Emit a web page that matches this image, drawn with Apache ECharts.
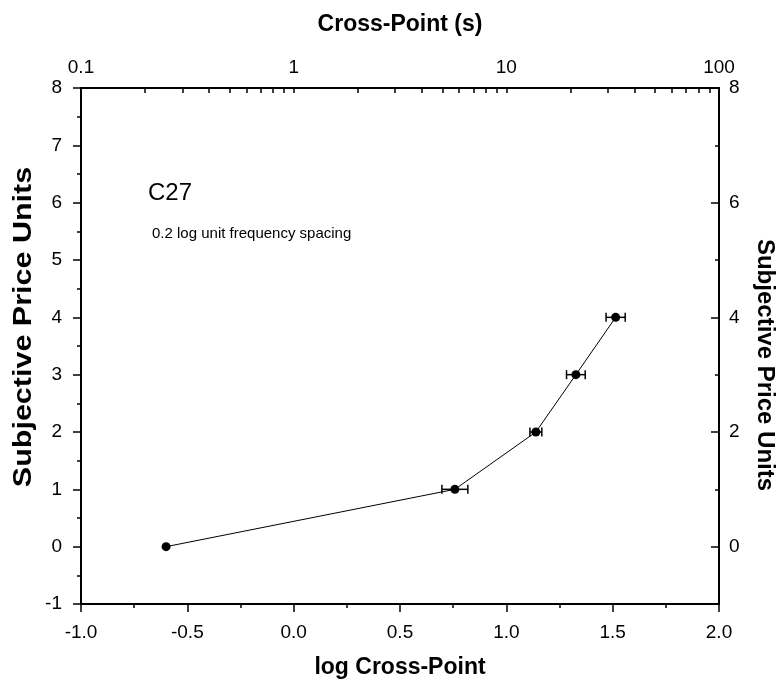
<!DOCTYPE html>
<html>
<head>
<meta charset="utf-8">
<script src="https://cdn.jsdelivr.net/npm/echarts@6/dist/echarts.min.js"></script>
<style>html,body{margin:0;padding:0;background:#fff}#c{width:781px;height:680px}</style>
</head>
<body>
<div id="c"></div>
<script>
// ---- data ----
var logCrossPoint = [-0.60, 0.758, 1.139, 1.327, 1.514];
var priceUnits = [0, 1, 2, 3, 4];
var xError = [0, 0.061, 0.028, 0.044, 0.045];
var topTickLabels = ['0.1', '1', '10', '100'];
var topLabelPositions = [-1, 0, 1, 2];
var rightLabelValues = [0, 2, 4, 6, 8];
var rightMinorValues = [1, 3, 5, 7];

var FONT = '"Liberation Sans", Arial, Helvetica, sans-serif';

// top log ticks (positions in log space)
var topTicks = [];
[-1, 0, 1].forEach(function (d) {
  for (var k = 1; k <= 9; k++) topTicks.push(d + Math.log10(k));
});
topTicks.push(2);

var points = logCrossPoint.map(function (x, i) { return [x, priceUnits[i]]; });
var errData = logCrossPoint.map(function (x, i) { return [x, priceUnits[i], xError[i]]; });

var chart = echarts.init(document.getElementById('c'), null, { renderer: 'canvas' });
function axisLine() { return { show: true, onZero: false, lineStyle: { color: '#000', width: 2 } }; }
var labelStyle = { color: '#000', fontSize: 19, fontFamily: FONT };

chart.setOption({
  animation: false,
  backgroundColor: '#fff',
  grid: { left: 81, right: 62, top: 88, bottom: 76, containLabel: false, outerBoundsMode: 'none' },
  xAxis: [{
    type: 'value', position: 'bottom', min: -1, max: 2, interval: 0.5,
    axisLine: axisLine(),
    axisTick: { show: true, inside: false, length: 8, lineStyle: { color: '#000', width: 1.5 } },
    minorTick: { show: true, splitNumber: 2, length: 4, lineStyle: { color: '#000', width: 1.5 } },
    splitLine: { show: false },
    axisLabel: Object.assign({ margin: 19, formatter: function (v) { return v.toFixed(1); } }, labelStyle),
    name: 'log Cross-Point', nameLocation: 'middle', nameGap: 52,
    nameTextStyle: { color: '#000', fontSize: 23, fontWeight: 'bold', fontFamily: FONT }
  }, {
    type: 'value', position: 'top', min: -1, max: 2,
    axisLine: axisLine(),
    axisTick: { show: true, inside: true, length: 5, customValues: topTicks, lineStyle: { color: '#000', width: 1.5 } },
    splitLine: { show: false },
    axisLabel: Object.assign({
      margin: 11, customValues: topLabelPositions, showMinLabel: true, showMaxLabel: true,
      formatter: function (v) {
        var i = topLabelPositions.indexOf(Math.round(v));
        return i >= 0 ? topTickLabels[i] : '';
      }
    }, labelStyle),
    name: 'Cross-Point (s)', nameLocation: 'middle', nameGap: 52,
    nameTextStyle: { color: '#000', fontSize: 23, fontWeight: 'bold', fontFamily: FONT }
  }],
  yAxis: [{
    type: 'value', position: 'left', min: -1, max: 8, interval: 1,
    axisLine: axisLine(),
    axisTick: { show: true, inside: false, length: 8, lineStyle: { color: '#000', width: 1.5 } },
    minorTick: { show: true, splitNumber: 2, length: 4, lineStyle: { color: '#000', width: 1.5 } },
    splitLine: { show: false },
    axisLabel: Object.assign({ margin: 19 }, labelStyle)
  }, {
    type: 'value', position: 'right', min: -1, max: 8,
    axisLine: axisLine(),
    axisTick: { show: true, inside: true, length: 8, customValues: rightLabelValues, lineStyle: { color: '#000', width: 1.5 } },
    splitLine: { show: false },
    axisLabel: Object.assign({ margin: 10, customValues: rightLabelValues }, labelStyle)
  }, {
    type: 'value', position: 'right', min: -1, max: 8,
    axisLine: { show: false, onZero: false },
    axisTick: { show: true, inside: true, length: 4, customValues: rightMinorValues, lineStyle: { color: '#000', width: 1.5 } },
    splitLine: { show: false },
    axisLabel: { show: false }
  }],
  series: [{
    type: 'line', xAxisIndex: 0, yAxisIndex: 0, data: points,
    symbol: 'circle', symbolSize: 9,
    lineStyle: { color: '#000', width: 1 },
    itemStyle: { color: '#000' }
  }, {
    type: 'custom', xAxisIndex: 0, yAxisIndex: 0, data: errData,
    renderItem: function (params, api) {
      var x = api.value(0), y = api.value(1), e = api.value(2);
      if (!e) return null;
      var p0 = api.coord([x - e, y]);
      var p1 = api.coord([x + e, y]);
      var h = 4.5;
      var st = { stroke: '#000', lineWidth: 1.5 };
      return {
        type: 'group',
        children: [
          { type: 'line', shape: { x1: p0[0], y1: p0[1], x2: p1[0], y2: p1[1] }, style: st },
          { type: 'line', shape: { x1: p0[0], y1: p0[1] - h, x2: p0[0], y2: p0[1] + h }, style: st },
          { type: 'line', shape: { x1: p1[0], y1: p1[1] - h, x2: p1[0], y2: p1[1] + h }, style: st }
        ]
      };
    },
    z: 1
  }],
  graphic: [
    { type: 'text', left: 148, top: 181, style: { text: 'C27', font: '24px ' + FONT, fill: '#000' } },
    { type: 'text', left: 152, top: 226, style: { text: '0.2 log unit frequency spacing', font: '15px ' + FONT, fill: '#000' } },
    { type: 'text', x: 24, y: 327, rotation: Math.PI / 2, scaleX: 1.22,
      style: { text: 'Subjective Price Units', font: 'bold 25px ' + FONT, fill: '#000', align: 'center', verticalAlign: 'middle' } },
    { type: 'text', x: 765, y: 365, rotation: -Math.PI / 2,
      style: { text: 'Subjective Price Units', font: 'bold 24px ' + FONT, fill: '#000', align: 'center', verticalAlign: 'middle' } }
  ]
});
</script>
</body>
</html>
